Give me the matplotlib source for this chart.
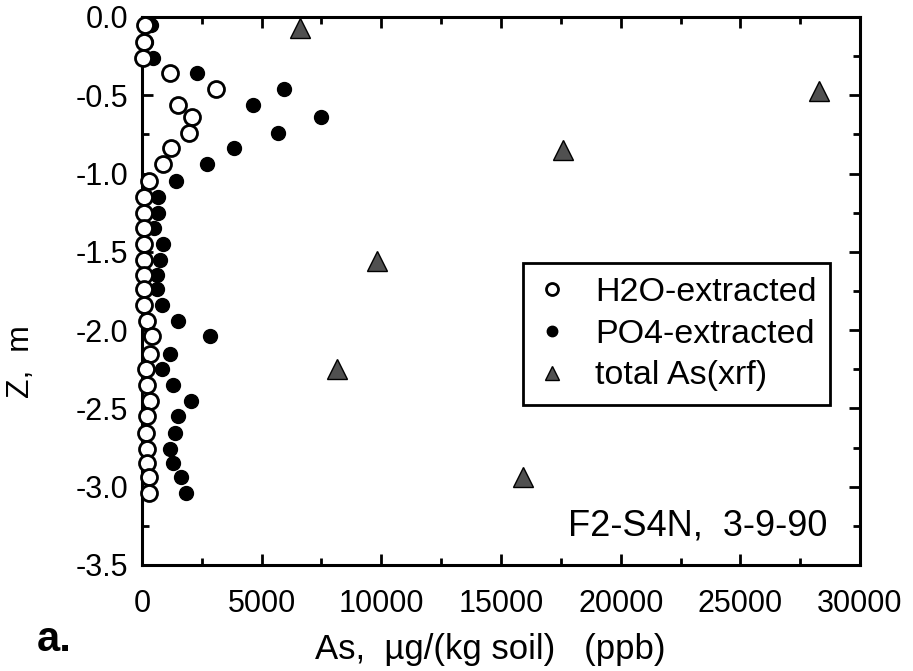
import matplotlib.pyplot as plt
from matplotlib.ticker import MultipleLocator

plt.rcParams['font.family'] = ['Liberation Sans', 'DejaVu Sans']

# depth (m) of each sample, shared by the two extractions
depth = [-0.05, -0.16, -0.26, -0.36, -0.46, -0.56, -0.64, -0.74, -0.84, -0.94,
         -1.05, -1.15, -1.25, -1.35, -1.45, -1.55, -1.65, -1.74, -1.84, -1.94,
         -2.04, -2.15, -2.25, -2.35, -2.45, -2.55, -2.66, -2.76, -2.85, -2.94, -3.04]

h2o = [120, 90, 60, 1170, 3090, 1500, 2090, 1960, 1210, 880,
       290, 100, 100, 100, 100, 100, 100, 100, 100, 200,
       420, 330, 170, 200, 330, 200, 170, 200, 200, 290, 290]

po4 = [380, 170, 460, 2300, 5930, 4640, 7480, 5680, 3840, 2720,
       1420, 670, 670, 500, 880, 750, 630, 630, 840, 1500,
       2840, 1170, 840, 1300, 2050, 1500, 1380, 1170, 1300, 1630, 1840]

xrf_depth = [-0.07, -0.47, -0.85, -1.56, -2.25, -2.94]
xrf = [6600, 28290, 17590, 9820, 8150, 15920]

fig = plt.figure(figsize=(9.13, 6.71), dpi=100)
ax = fig.add_axes([0.1555, 0.158, 0.7865, 0.8167])

ax.plot(xrf, xrf_depth, linestyle='none', marker='^', markersize=14,
        markerfacecolor='#505050', markeredgecolor='black', markeredgewidth=1,
        label='total As(xrf)', clip_on=False, zorder=3)
ax.plot(po4, depth, linestyle='none', marker='o', markersize=10,
        markerfacecolor='black', markeredgecolor='black',
        label='PO4-extracted', clip_on=False, zorder=4)
ax.plot(h2o, depth, linestyle='none', marker='o', markersize=11.5,
        markerfacecolor='white', markeredgecolor='black', markeredgewidth=2,
        label='H2O-extracted', clip_on=False, zorder=5)

ax.set_xlim(0, 30000)
ax.set_ylim(-3.5, 0.0)
ax.xaxis.set_major_locator(MultipleLocator(5000))
ax.xaxis.set_minor_locator(MultipleLocator(2500))
ax.yaxis.set_major_locator(MultipleLocator(0.5))
ax.yaxis.set_minor_locator(MultipleLocator(0.25))
ax.yaxis.set_major_formatter(plt.FuncFormatter(lambda v, p: '%.1f' % v))

for s in ax.spines.values():
    s.set_linewidth(2.2)
ax.tick_params(which='both', direction='in', top=True, right=True,
               width=2, labelsize=22)
ax.tick_params(which='major', length=8)
ax.tick_params(which='minor', length=5)
ax.tick_params(axis='x', which='major', pad=17)
ax.tick_params(axis='y', which='major', pad=10)

handles, labels = ax.get_legend_handles_labels()
leg = ax.legend(handles[::-1], labels[::-1], loc='upper right',
                bbox_to_anchor=(0.958, 0.551), borderaxespad=0,
                fontsize=24.5, markerscale=0.75, fancybox=False, framealpha=1,
                edgecolor='black', handlelength=0.9, handletextpad=0.8,
                borderpad=0.4, labelspacing=0.32)
leg.get_frame().set_linewidth(2)

ax.text(0.954, 0.071, 'F2-S4N,  3-9-90', transform=ax.transAxes,
        ha='right', va='center', fontsize=26)

ax.set_xlabel('As,  \u00b5g/(kg soil)   (ppb)', fontsize=25)
ax.xaxis.label.set_va('center')
ax.xaxis.set_label_coords(0.485, -0.155)
ax.set_ylabel('Z,  m', fontsize=23)
ax.yaxis.label.set_va('center')
ax.yaxis.set_label_coords(-0.168, 0.372)
fig.text(0.04, 0.046, 'a.', fontsize=30, fontweight='bold', ha='left', va='center')

fig.savefig('out.png', dpi=100)
